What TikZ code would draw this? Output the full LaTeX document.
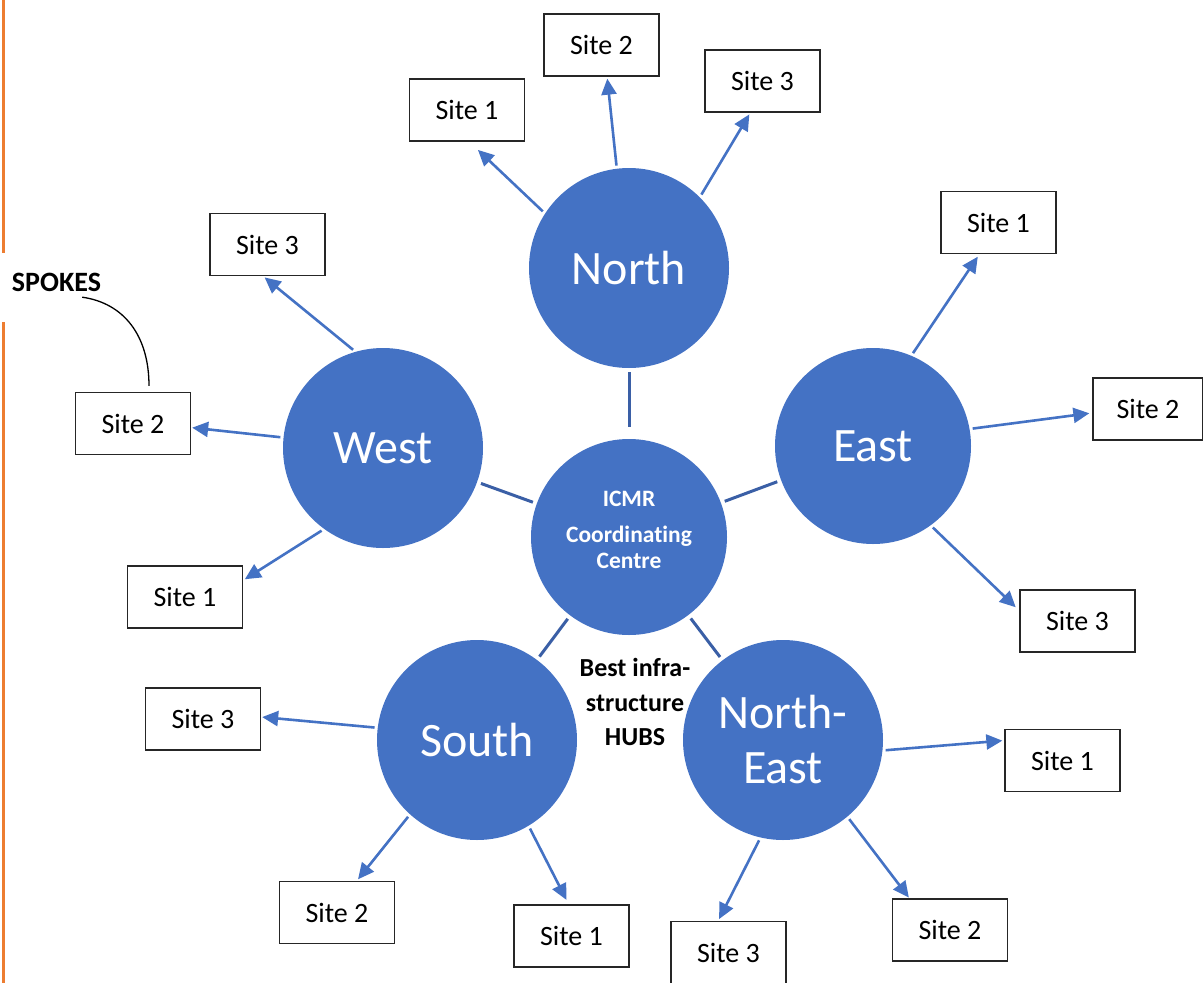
\documentclass[tikz,border=0pt]{standalone}
\usepackage{fontspec}
\setmainfont{Carlito}[Ligatures=NoCommon]
\usepackage{xcolor}
\usepackage{tikz}
\usetikzlibrary{arrows.meta}
\definecolor{hubblue}{HTML}{4472C4}
\definecolor{linkblue}{HTML}{3A5FA6}
\definecolor{edgeorange}{HTML}{ED7D31}
\tikzset{
    hub/.style={circle, fill=hubblue, minimum size=200pt, inner sep=0pt, text=white, align=center, font=\fontsize{48}{55}\selectfont},
    site/.style={rectangle, draw=black!85, line width=1.3pt, minimum width=115pt, minimum height=62pt, inner sep=0pt, font=\fontsize{28}{34}\selectfont},
    spoke/.style={-{Triangle[length=16pt,width=15pt]}, draw=hubblue, line width=2.6pt, shorten <=3pt, shorten >=2pt},
    link/.style={draw=linkblue, line width=3pt, shorten <=4pt, shorten >=4pt}
}

\begin{document}
\begin{tikzpicture}[x=1pt, y=-1pt]
            \useasboundingbox (0,0) rectangle (1203,983);
            % margin rule
            \draw[edgeorange, line width=3pt] (3,0) -- (3,253);
            \draw[edgeorange, line width=3pt] (3,322) -- (3,983);

            % hubs
            \node[hub, minimum size=196pt, label={[text=white, align=center, yshift=7pt, font=\bfseries\fontsize{23.5}{25.6}\selectfont]center:{ICMR\\[10.4pt]Coordinating\\Centre}}] (ctr) at (629,537) {};
            \node[hub] (north) at (629,268) {North};
            \node[hub] (west) at (383,448) {West};
            \node[hub, minimum size=196pt] (east) at (873,446) {East};
            \node[hub] (south) at (477,740) {South};
            \node[hub] (neast) at (783,740) {North-\\East};

            \node[align=center, inner sep=0pt, font=\bfseries\fontsize{26}{34.5}\selectfont] (hubsnote) at (635,702) {Best infra-\\structure\\HUBS};
            \node[inner sep=0pt, font=\bfseries\fontsize{28}{34}\selectfont] (spokes) at (56.5,282.7) {SPOKES};

            % sites
            \node[site] (n1) at (467,110) {Site 1};
            \node[site] (n2) at (601.5,45) {Site 2};
            \node[site] (n3) at (762.5,81) {Site 3};
            \node[site] (e1) at (998.5,222.5) {Site 1};
            \node[site, minimum width=110pt] (e2) at (1148,409) {Site 2};
            \node[site] (e3) at (1077.5,621) {Site 3};
            \node[site] (w3) at (267.5,244.5) {Site 3};
            \node[site] (w2) at (133,423.5) {Site 2};
            \node[site] (w1) at (185,597) {Site 1};
            \node[site] (s3) at (203,719) {Site 3};
            \node[site] (s2) at (337,912.5) {Site 2};
            \node[site] (s1) at (571.5,936) {Site 1};
            \node[site] (ne1) at (1062.5,760.5) {Site 1};
            \node[site] (ne2) at (950,930) {Site 2};
            \node[site] (ne3) at (728.5,952.5) {Site 3};

            % centre to hubs
            \draw[link, shorten <=12pt] (ctr) -- (north);
            \draw[link] (ctr) -- (west);
            \draw[link] (ctr) -- (east);
            \draw[link] (ctr) -- (south);
            \draw[link] (ctr) -- (neast);

            % hubs to sites
            \draw[spoke, shorten >=12pt] (north.147) -- (n1.-86);
            \draw[spoke] (north.97) -- (n2.-80);
            \draw[spoke] (north.45) -- (n3.-111);
            \draw[spoke, shorten >=3pt] (east.67) -- (e1.-121);
            \draw[spoke, shorten >=3pt] (east.10) -- (e2.-176);
            \draw[spoke, shorten >=5pt] (east.-54) -- (e3.170);
            \draw[spoke] (west.106) -- (w3.-98);
            \draw[spoke, shorten >=1pt] (west.174) -- (w2.-4);
            \draw[spoke] (west.-126) -- (w1.16);
            \draw[spoke, shorten >=1pt] (south.173) -- (s3.2);
            \draw[spoke] (south.-132) -- (s2.58);
            \draw[spoke, shorten >=5pt] (south.-59) -- (s1.95);
            \draw[spoke] (neast.-6) -- (ne1.161);
            \draw[spoke, shorten >=1pt] (neast.-50) -- (ne2.142);
            \draw[spoke] (neast.-103) -- (ne3.108);

            % label curve
            \draw[line width=1.3pt] ([shift={(-19,5)}]spokes.south east) .. controls +(42,6) and +(0,-50) .. ([shift={(16,-6)}]w2.north);
        \end{tikzpicture}
\end{document}
